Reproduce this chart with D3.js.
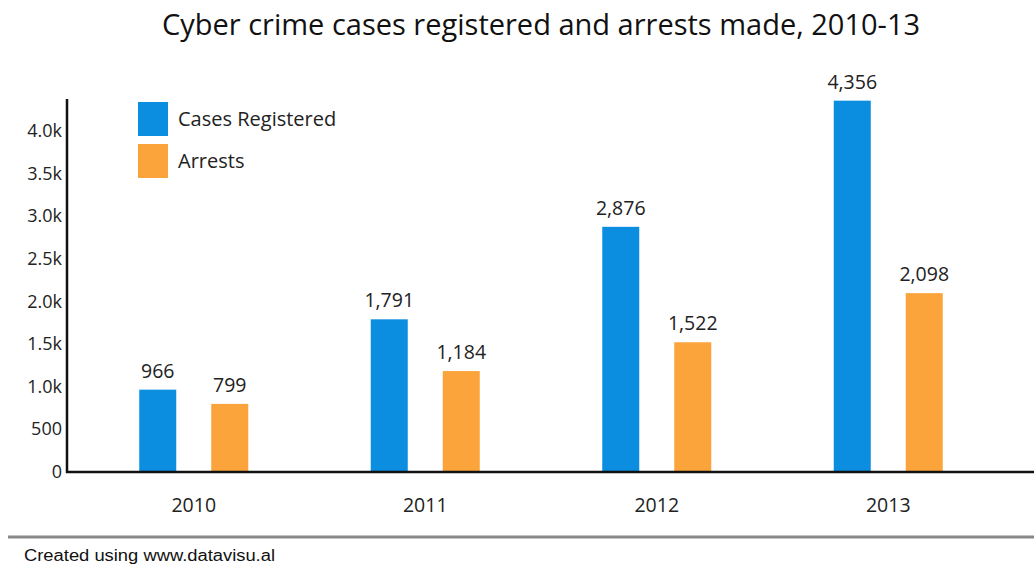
<!DOCTYPE html>
<html>
<head>
<meta charset="utf-8">
<script src="https://cdn.jsdelivr.net/npm/d3@7"></script>
<style>
  body { margin: 0; background: #fff; }
  svg { display: block; }
</style>
</head>
<body>
<div id="container"></div>
<script>
const width = 1034;
const height = 566;

const years = ['2010', '2011', '2012', '2013'];
const cases = [966, 1791, 2876, 4356];
const arrests = [799, 1184, 1522, 2098];
const seriesNames = ['Cases Registered', 'Arrests'];
const yTicks = [0, 500, 1000, 1500, 2000, 2500, 3000, 3500, 4000];

const colors = ['#0b8de0', '#fba43b'];
const font = '"Open Sans", Lato, sans-serif';

const svg = d3.select('#container').append('svg')
    .attr('width', width)
    .attr('height', height);

// title
svg.append('text')
    .attr('x', 541)
    .attr('y', 35)
    .attr('text-anchor', 'middle')
    .attr('font-family', font)
    .attr('font-size', 29)
    .attr('fill', '#111')
    .text('Cyber crime cases registered and arrests made, 2010-13');

const x = d3.scaleBand().domain(years).range([78, 1004]);
const y = d3.scaleLinear().domain([0, 4000]).range([472, 131]);

// y axis labels
svg.append('g')
    .selectAll('text')
    .data(yTicks)
    .join('text')
    .attr('x', 62)
    .attr('y', d => y(d) + 6)
    .attr('text-anchor', 'end')
    .attr('font-family', font)
    .attr('font-size', 18)
    .attr('fill', '#222')
    .text(d => d === 0 ? '0' : d < 1000 ? d : d3.format('.1f')(d / 1000) + 'k');

// bars
const rows = years.map((yr, i) => ({ year: yr, vals: [cases[i], arrests[i]] }));
const group = svg.append('g')
    .selectAll('g')
    .data(rows)
    .join('g')
    .attr('transform', d => 'translate(' + (x(d.year) + x.bandwidth() / 2) + ',0)');

const barW = 37;
const offs = [-36, 36];

group.selectAll('rect')
    .data(d => d.vals)
    .join('rect')
    .attr('x', (d, i) => offs[i] - barW / 2)
    .attr('y', d => y(d))
    .attr('width', barW)
    .attr('height', d => y(0) - y(d))
    .attr('fill', (d, i) => colors[i]);

group.selectAll('text.val')
    .data(d => d.vals)
    .join('text')
    .attr('class', 'val')
    .attr('x', (d, i) => offs[i])
    .attr('y', d => y(d) - 12)
    .attr('text-anchor', 'middle')
    .attr('font-family', font)
    .attr('font-size', 19.5)
    .attr('fill', '#222')
    .text(d => d3.format(',')(d));

group.append('text')
    .attr('y', 512)
    .attr('text-anchor', 'middle')
    .attr('font-family', font)
    .attr('font-size', 19.5)
    .attr('fill', '#222')
    .text(d => d.year);

// axes lines
svg.append('line')
    .attr('x1', 67).attr('x2', 67)
    .attr('y1', 99).attr('y2', 473)
    .attr('stroke', '#111').attr('stroke-width', 2.5);
svg.append('line')
    .attr('x1', 66).attr('x2', width)
    .attr('y1', 472).attr('y2', 472)
    .attr('stroke', '#111').attr('stroke-width', 2.5);

// legend
const legend = svg.append('g')
    .selectAll('g')
    .data(seriesNames)
    .join('g')
    .attr('transform', (d, i) => 'translate(138,' + (102 + i * 42) + ')');
legend.append('rect')
    .attr('width', 30)
    .attr('height', 34)
    .attr('fill', (d, i) => colors[i]);
legend.append('text')
    .attr('x', 40)
    .attr('y', 24)
    .attr('font-family', font)
    .attr('font-size', 20)
    .attr('fill', '#222')
    .text(d => d);

// footer
svg.append('line')
    .attr('x1', 8).attr('x2', width)
    .attr('y1', 537).attr('y2', 537)
    .attr('stroke', '#888').attr('stroke-width', 3);
svg.append('text')
    .attr('x', 24)
    .attr('y', 561)
    .attr('font-family', '"Liberation Sans", Arial, sans-serif')
    .attr('font-size', 16)
    .attr('textLength', 251)
    .attr('lengthAdjust', 'spacingAndGlyphs')
    .attr('fill', '#111')
    .text('Created using www.datavisu.al');
</script>
</body>
</html>
